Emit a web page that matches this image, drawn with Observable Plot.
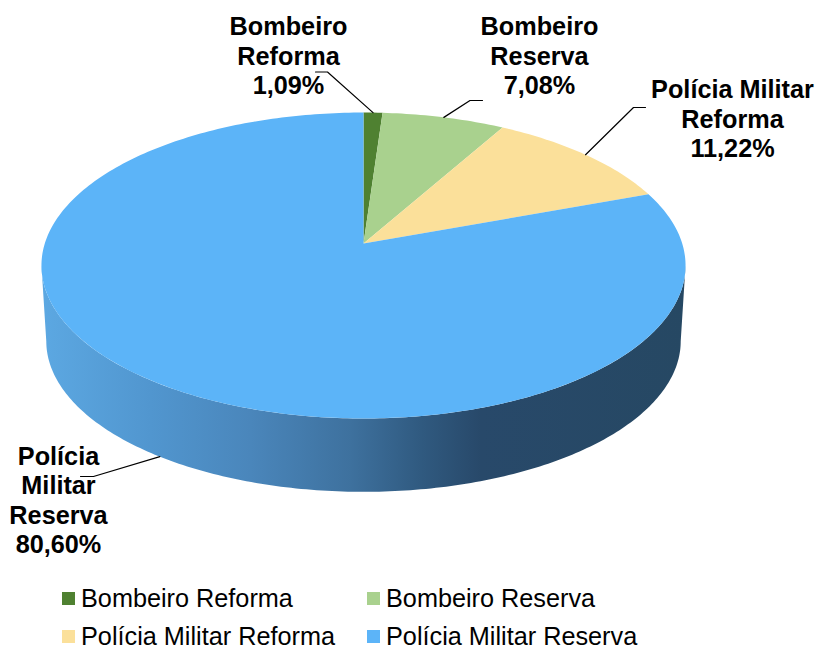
<!DOCTYPE html>
<html>
<head>
<meta charset="utf-8">
<script src="https://cdn.jsdelivr.net/npm/d3@7"></script>
<script src="https://cdn.jsdelivr.net/npm/@observablehq/plot@0.6"></script>
<style>
html,body{margin:0;padding:0;background:#fff;overflow:hidden;height:650px}
#legend{font:25.25px/24px "Liberation Sans",Arial,sans-serif;color:#000;position:relative;height:70px}
#legend div{position:absolute;white-space:nowrap;height:24px}
#legend i{position:absolute;left:-19px;top:6px;width:13px;height:13px}
</style>
</head>
<body>
<div id="chart"></div>
<div id="legend"></div>
<script>
const categories = ["Bombeiro Reforma", "Bombeiro Reserva", "Polícia Militar Reforma", "Polícia Militar Reserva"];
const percents = [1.09, 7.08, 11.22, 80.60];
const percentLabels = ["1,09%", "7,08%", "11,22%", "80,60%"];
const labelLines = ["Bombeiro\nReforma", "Bombeiro\nReserva", "Polícia Militar\nReforma", "Polícia\nMilitar\nReserva"];
const sliceColors = ["#4F8131", "#A9D18E", "#FBE09A", "#5CB4F8"];

// Layout of the perspective disc
const W = 815, H = 580;
const cx = 363, cy = 243, persp = 0.1438, kx = 318.7, ky = 149.8;
const depth = 76, depthScale = 0.985;
// Side shading along the horizontal extent
const shadeX = [41, 150, 250, 350, 420, 480, 685];
const shadeC = ["#5CA8E2", "#5196CF", "#4A86BB", "#3E719E", "#305A80", "#28496A", "#264863"];
// Label centres and leader elbows
const labelAt = [[288, 55], [539, 55], [732, 118], [58, 499]];
const elbowAt = [[[327, 71.5], [315, 71.5]], [[469.5, 100], [482, 100]], [[633, 107], [645, 107]], [[93, 476], [80, 476]]];
const onBottom = [false, false, false, true];
const legendCols = [81, 386];
const legendRows = [6, 44];

function project(deg, lower = false) {
  const a = deg * Math.PI / 180, d = 1 + persp * Math.cos(a);
  const s = lower ? depthScale : 1, off = lower ? depth : 0;
  return {x: cx + s * kx * Math.sin(a) / d, y: cy + off - s * ky * Math.cos(a) / d};
}

const total = d3.sum(percents);
let acc = 0;
const arcs = percents.map((v, i) => {
  const a0 = acc / total * 360; acc += v;
  return {i, a0, a1: acc / total * 360, mid: (a0 + acc / total * 360) / 2};
});

const slicePts = arcs.flatMap(({i, a0, a1}) => {
  const pts = [{x: cx, y: cy, i, fill: sliceColors[i]}];
  const n = Math.max(2, Math.ceil(a1 - a0));
  for (let k = 0; k <= n; k++) {
    const p = project(a0 + (a1 - a0) * k / n);
    pts.push({...p, i, fill: sliceColors[i]});
  }
  return pts;
});

// Outline of the visible wall, between the two silhouette angles of the disc
const edge = Math.acos(-persp) * 180 / Math.PI;
const wallAngles = d3.range(edge, 360 - edge + 0.01, (360 - 2 * edge) / 200);
const sidePts = [...wallAngles.map(a => project(a)), ...wallAngles.slice().reverse().map(a => project(a, true))];

const leaderPts = arcs.flatMap(({i, mid}) => {
  const start = project(mid, onBottom[i]);
  return [start, ...elbowAt[i].map(([x, y]) => ({x, y}))].map(p => ({...p, i}));
});

const labels = arcs.map(({i}) => ({
  x: labelAt[i][0], y: labelAt[i][1], text: labelLines[i] + "\n" + percentLabels[i]
}));

// Gradient definition placed inside the plot's SVG
function wallGradient() {
  const g = d3.create("svg:linearGradient")
    .attr("id", "wall").attr("gradientUnits", "userSpaceOnUse")
    .attr("x1", shadeX[0]).attr("x2", shadeX[shadeX.length - 1]).attr("y1", 0).attr("y2", 0);
  const span = shadeX[shadeX.length - 1] - shadeX[0];
  shadeX.forEach((x, i) => g.append("stop").attr("offset", (x - shadeX[0]) / span).attr("stop-color", shadeC[i]));
  const defs = d3.create("svg:defs");
  defs.append(() => g.node());
  return defs.node();
}

const chart = Plot.plot({
  width: W, height: H,
  margin: 0,
  x: {domain: [0, W], range: [0, W], axis: null},
  y: {domain: [0, H], range: [0, H], axis: null},
  color: {type: "identity"},
  marks: [
    wallGradient,
    Plot.line(sidePts, {x: "x", y: "y", fill: "url(#wall)", stroke: "none"}),
    Plot.line(slicePts, {x: "x", y: "y", z: "i", fill: "fill", stroke: "none"}),
    Plot.line(leaderPts, {x: "x", y: "y", z: "i", stroke: "#000", strokeWidth: 1.2, strokeMiterlimit: 10}),
    Plot.text(labels, {x: "x", y: "y", text: "text", fontSize: 25.25, fontWeight: "bold",
      fontFamily: "Liberation Sans", lineHeight: 1.17, fill: "#000", textAnchor: "middle"})
  ]
});
chart.style.display = "block";
document.getElementById("chart").append(chart);

const legend = document.getElementById("legend");
categories.forEach((c, i) => {
  const d = document.createElement("div");
  d.style.left = legendCols[i % 2] + "px";
  d.style.top = legendRows[Math.floor(i / 2)] + "px";
  const sw = document.createElement("i");
  sw.style.background = sliceColors[i];
  d.append(sw, document.createTextNode(c));
  legend.append(d);
});
</script>
</body>
</html>
